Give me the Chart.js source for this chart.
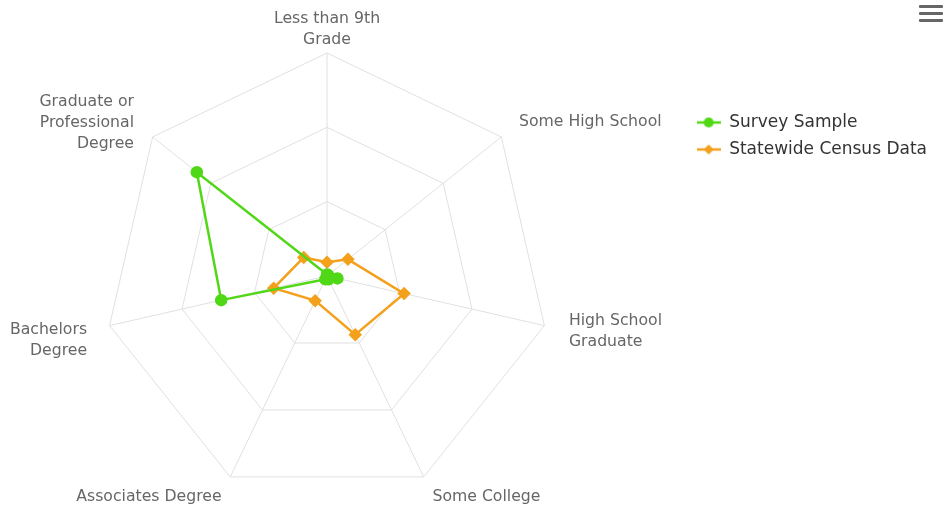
<!DOCTYPE html>
<html>
<head>
<meta charset="utf-8">
<title>Education levels - survey vs census</title>
<script src="https://cdn.jsdelivr.net/npm/chart.js@4.4.1/dist/chart.umd.min.js"></script>
<style>
    html, body { margin: 0; padding: 0; background: #ffffff; }
    #wrap { position: relative; width: 948px; height: 514px; }
    #menu { position: absolute; left: 919px; top: 5px; width: 24px; }
    #menu span { display: block; height: 3px; margin-bottom: 4px; background: #666666; border-radius: 1px; }
</style>
</head>
<body>
<div id="wrap">
    <canvas id="eduChart" width="948" height="514"></canvas>
    <div id="menu"><span></span><span></span><span></span></div>
</div>
<script>
// Chart data (percent of respondents / population)
const categories = [
    ['Less than 9th', 'Grade'],
    'Some High School',
    ['High School', 'Graduate'],
    'Some College',
    'Associates Degree',
    ['Bachelors', 'Degree'],
    ['Graduate or', 'Professional', 'Degree']
];
const surveySample = [0.5, 0.5, 3.6, 1.2, 1.2, 36.5, 56];
const censusData = [4.6, 9, 26.6, 21.9, 9.2, 18.4, 10];
const seriesNames = ['Survey Sample', 'Statewide Census Data'];
const scaleMin = 0;
const scaleMax = 75;
const scaleStep = 25;

const GREEN = '#50d816';
const ORANGE = '#f3a01c';
const LABEL_FONT = '"DejaVu Sans", "Lucida Grande", sans-serif';

// small line + marker icons for the legend
function legendIcon(color, shape) {
    const c = document.createElement('canvas');
    c.width = 24;
    c.height = 12;
    const g = c.getContext('2d');
    g.strokeStyle = color;
    g.fillStyle = color;
    g.lineWidth = 2.5;
    g.beginPath();
    g.moveTo(0, 6);
    g.lineTo(24, 6);
    g.stroke();
    g.beginPath();
    if (shape === 'circle') {
        g.arc(12, 6, 5, 0, Math.PI * 2);
    } else {
        g.moveTo(12, 1);
        g.lineTo(17, 6);
        g.lineTo(12, 11);
        g.lineTo(7, 6);
        g.closePath();
    }
    g.fill();
    return c;
}
const legendIcons = [legendIcon(GREEN, 'circle'), legendIcon(ORANGE, 'diamond')];

// small nudges [dx, dy] so the category labels sit like the original
const labelNudge = [[0, -4], [2, -3], [5, 1], [0, 2], [0, 2], [-3, 10], [-3, -2]];

const categoryLabels = {
    id: 'categoryLabels',
    afterDraw(chart) {
        const scale = chart.scales.r;
        const ctx = chart.ctx;
        const lineH = 21;
        ctx.save();
        ctx.font = '15.7px ' + LABEL_FONT;
        ctx.fillStyle = '#666666';
        ctx.textBaseline = 'middle';
        categories.forEach((label, i) => {
            const lines = [].concat(label);
            const pos = scale.getPointPosition(i, scale.drawingArea + 20);
            const dx = pos.x - scale.xCenter;
            ctx.textAlign = Math.abs(dx) < 2 ? 'center' : (dx > 0 ? 'left' : 'right');
            const x = pos.x + labelNudge[i][0];
            const top = pos.y - lines.length * lineH / 2 + labelNudge[i][1];
            lines.forEach((txt, j) => {
                ctx.fillText(txt, x, top + lineH * j + lineH / 2);
            });
        });
        ctx.restore();
    }
};

const ctx = document.getElementById('eduChart').getContext('2d');
const chart = new Chart(ctx, {
    type: 'radar',
    data: {
        labels: categories,
        datasets: [{
            label: seriesNames[0],
            data: surveySample,
            borderColor: GREEN,
            backgroundColor: GREEN,
            pointBackgroundColor: GREEN,
            pointBorderColor: GREEN,
            pointStyle: 'circle',
            pointRadius: 5,
            borderWidth: 2.5,
            fill: false
        }, {
            label: seriesNames[1],
            data: censusData,
            borderColor: ORANGE,
            backgroundColor: ORANGE,
            pointBackgroundColor: ORANGE,
            pointBorderColor: ORANGE,
            pointStyle: 'rectRot',
            pointRadius: 5,
            borderWidth: 2.5,
            fill: false
        }]
    },
    options: {
        responsive: false,
        animation: false,
        layout: {
            padding: { top: 53, bottom: 14, left: 0, right: 11 }
        },
        scales: {
            r: {
                min: scaleMin,
                max: scaleMax,
                ticks: { display: false, stepSize: scaleStep },
                grid: { color: '#e0e0e0', lineWidth: 1 },
                angleLines: { color: '#e0e0e0', lineWidth: 1 },
                pointLabels: { display: false },
                // polar plot sits left of the middle of the free area
                afterFit(scale) {
                    scale.xCenter -= 16;
                }
            }
        },
        plugins: {
            tooltip: { enabled: false },
            legend: {
                position: 'right',
                align: 'start',
                title: {
                    display: true,
                    text: ' ',
                    color: 'rgba(0,0,0,0)',
                    font: { size: 10, lineHeight: 1 },
                    padding: { top: 41, bottom: 0 }
                },
                labels: {
                    usePointStyle: true,
                    pointStyleWidth: 24,
                    padding: 10,
                    color: '#333333',
                    font: { size: 17, family: LABEL_FONT },
                    generateLabels(chart) {
                        const items = Chart.defaults.plugins.legend.labels.generateLabels(chart);
                        items.forEach((item, i) => { item.pointStyle = legendIcons[i]; });
                        return items;
                    }
                }
            }
        }
    },
    plugins: [categoryLabels]
});
</script>
</body>
</html>
